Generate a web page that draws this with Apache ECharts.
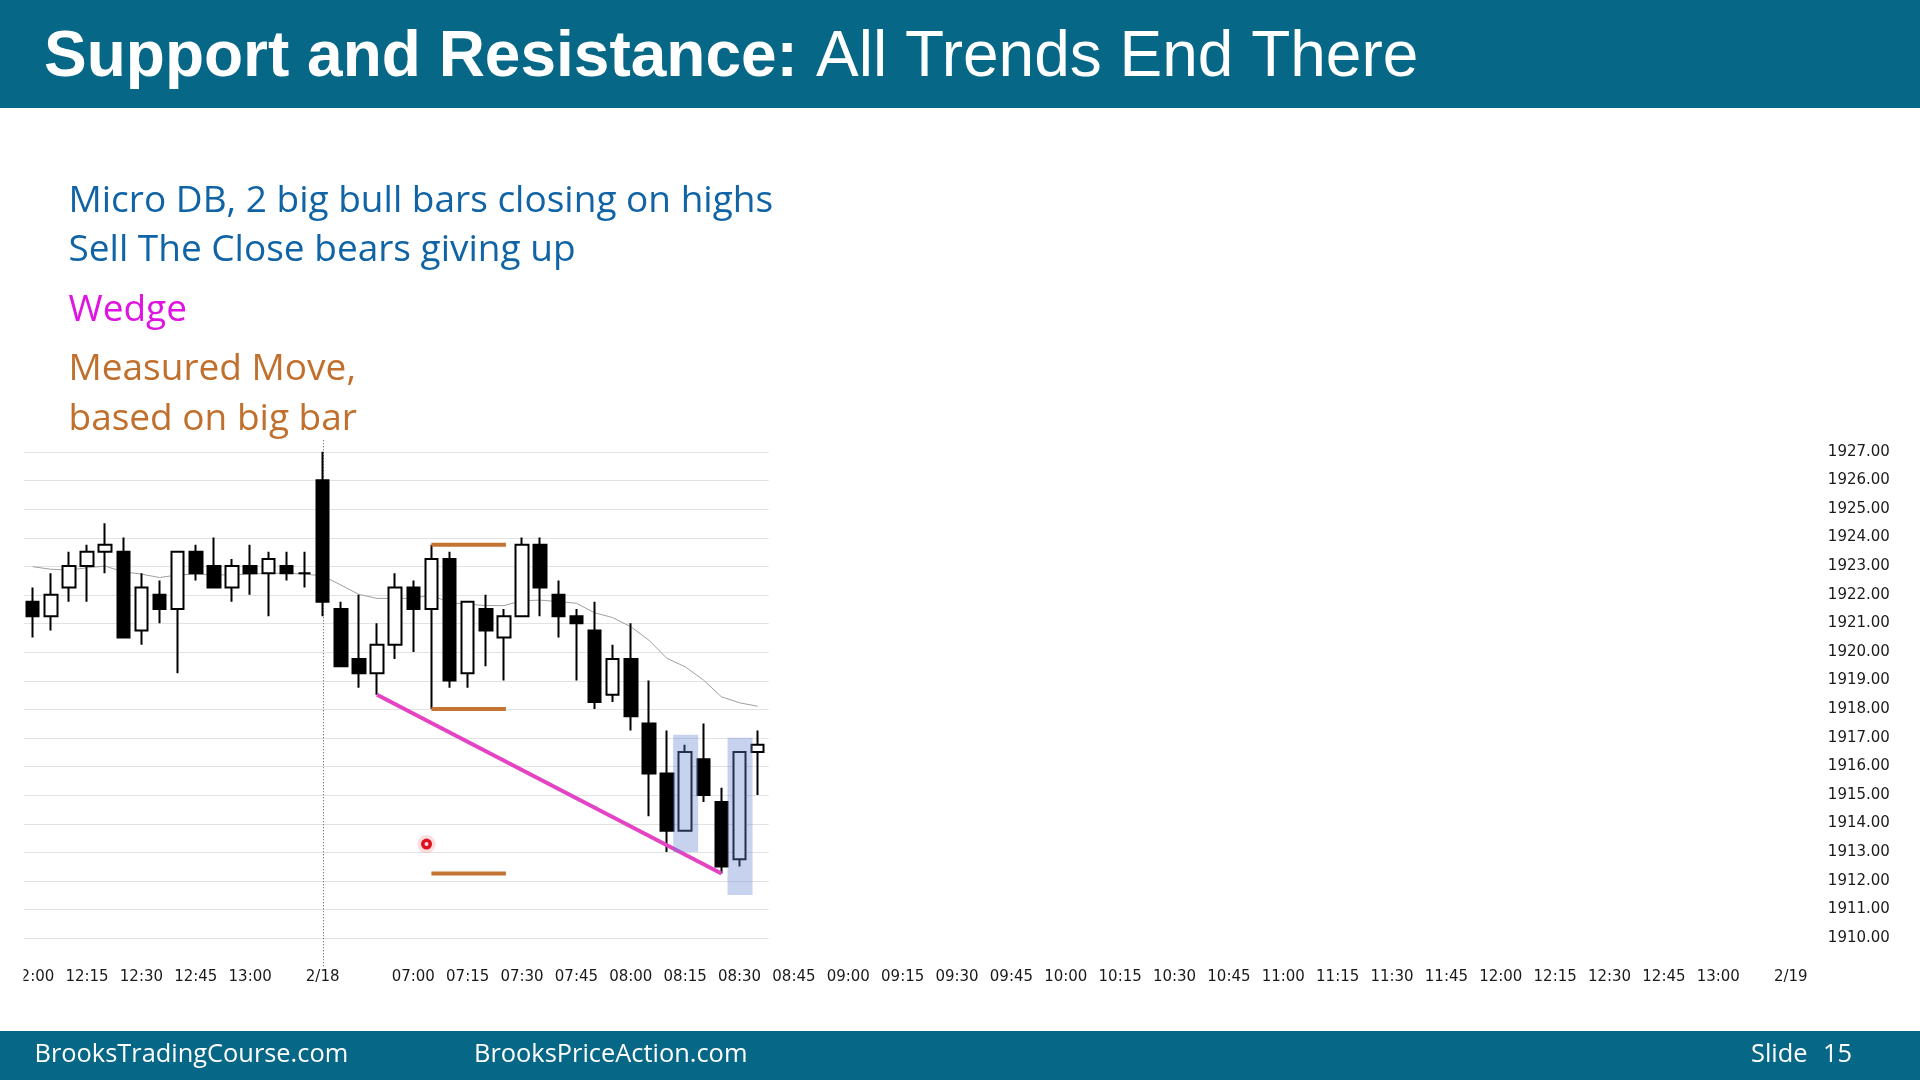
<!DOCTYPE html>
<html><head><meta charset="utf-8">
<script src="https://cdn.jsdelivr.net/npm/echarts@6/dist/echarts.min.js"></script>
<style>html,body{margin:0;padding:0;background:#fff;}#c{width:1920px;height:1080px;}</style>
</head><body><div id="c"></div>
<script>
// ---- data ----
const sessions = [
  {date:'2/17', start:'12:00', end:'13:15'},
  {date:'2/18', start:'06:35', end:'13:15'},
  {date:'2/19', start:'06:35', end:'06:35'}
];
const barOpen  = [1921.75,1921.25,1922.25,1923.0,1923.5,1923.5,1920.75,1922.0,1921.5,1923.5,1923.0,1922.25,1923.0,1922.75,1923.0,1922.75,
                  1926.0,1921.5,1919.75,1919.25,1920.25,1922.25,1921.5,1923.25,1919.25,1921.5,1920.5,1921.25,1923.75,1922.0,1921.25,1920.75,
                  1918.5,1919.75,1917.5,1915.75,1913.75,1916.25,1914.75,1912.75,1916.5];
const barHigh  = [1922.25,1922.75,1923.5,1923.75,1924.5,1924.0,1922.75,1922.5,1923.5,1923.75,1924.0,1923.25,1923.75,1923.5,1923.5,1923.5,
                  1927.0,1921.75,1922.0,1921.0,1922.75,1922.5,1923.75,1923.5,1921.75,1922.0,1921.5,1924.0,1924.0,1922.5,1921.5,1921.75,
                  1920.25,1921.0,1919.0,1917.25,1916.75,1917.5,1915.25,1916.5,1917.25];
const barLow   = [1920.5,1920.75,1921.75,1921.75,1922.75,1920.5,1920.25,1921.0,1919.25,1922.5,1922.25,1921.75,1922.0,1921.25,1922.5,1922.25,
                  1921.25,1919.5,1918.75,1918.5,1919.75,1920.0,1918.0,1918.75,1918.75,1919.5,1919.0,1921.25,1921.25,1920.5,1919.0,1918.0,
                  1918.25,1917.25,1914.25,1913.0,1913.75,1914.75,1912.25,1912.5,1915.0];
const barClose = [1921.25,1922.0,1923.0,1923.5,1923.75,1920.5,1922.25,1921.5,1923.5,1922.75,1922.25,1923.0,1922.75,1923.25,1922.75,1922.75,
                  1921.75,1919.5,1919.25,1920.25,1922.25,1921.5,1923.25,1919.0,1921.75,1920.75,1921.25,1923.75,1922.25,1921.25,1921.0,1918.25,
                  1919.75,1917.75,1915.75,1913.75,1916.5,1915.0,1912.5,1916.5,1916.75];
const maValues = [1922.98,1922.89,1922.86,1922.94,1923.0,1922.8,1922.72,1922.6,1922.69,1922.72,1922.69,1922.7,1922.72,1922.75,1922.75,1922.72,
                  1922.66,1922.34,1922.01,1921.87,1921.87,1921.87,1921.99,1921.72,1921.67,1921.62,1921.62,1921.79,1921.81,1921.76,1921.7,1921.37,
                  1921.2,1920.88,1920.41,1919.77,1919.48,1919.02,1918.43,1918.22,1918.1];
const yTicks = [1910,1911,1912,1913,1914,1915,1916,1917,1918,1919,1920,1921,1922,1923,1924,1925,1926,1927];
const mmLevels = [1923.75, 1918.0, 1912.25];   // measured move lines
const mmStartBar = 22, mmEndBar = 26;
const wedgePoints = [[19, 1918.5], [38, 1912.25]];
const highlightBars = [36, 39];
const highlightTop = [1917.1, 1917.0];
const highlightBottom = [1913.0, 1911.5];
const dayStartBar = 16, dividerTop = 1927.4;
const cursorBar = 21.73, cursorPrice = 1913.28;
const notes = [
  {text:'Micro DB, 2 big bull bars closing on highs', color:'#1064a6'},
  {text:'Sell The Close bears giving up', color:'#1064a6'},
  {text:'Wedge', color:'#e014e0'},
  {text:'Measured Move,', color:'#c0702c'},
  {text:'based on big bar', color:'#c0702c'}
];
const noteBaselines = [211.7, 260.7, 321, 379.5, 429.8];

// ---- categories (5-min bars) ----
function pad(n){return (n<10?'0':'')+n;}
const categories = [], catInfo = [];
sessions.forEach((s, si) => {
  let [h, m] = s.start.split(':').map(Number);
  const [eh, em] = s.end.split(':').map(Number);
  const startIdx = categories.length;
  while (h*60+m <= eh*60+em) {
    const t = pad(h)+':'+pad(m);
    catInfo.push({date:s.date, time:t, si:si, pos:categories.length-startIdx, min:m, last:(h*60+m)===(eh*60+em)});
    categories.push(s.date+' '+t);
    m += 5; if (m >= 60) { m -= 60; h++; }
  }
});
function labelFor(i){
  const c = catInfo[i];
  if (!c) return '';
  if (c.pos === 0 && c.si > 0) return c.date;
  if (c.min % 15 !== 0) return '';
  if (c.si > 0 && c.pos < 3) return '';
  if (c.last && c.si < sessions.length - 1) return '';
  return c.time;
}

const chart = echarts.init(document.getElementById('c'), null, {renderer:'canvas'});
const lastBar = barOpen.length - 1;
const openSans = '"Open Sans", "Noto Sans", sans-serif';
const noteSize = 37, footSize = 25.4;

const graphics = [
  {type:'rect', shape:{x:0,y:0,width:1920,height:108}, style:{fill:'#076787'}, z:100},
  {type:'text', x:44, y:58, style:{text:'Support and Resistance:', fill:'#fff', fontSize:64, fontWeight:'bold', fontFamily:'"Liberation Sans", Arial, sans-serif', verticalAlign:'middle'}, z:101},
  {type:'text', x:816, y:58, style:{text:'All Trends End There', fill:'#fff', fontSize:64, fontFamily:'"Liberation Sans", Arial, sans-serif', verticalAlign:'middle'}, z:101},
  {type:'rect', shape:{x:0,y:1031,width:1920,height:49}, style:{fill:'#076787'}, z:100},
  {type:'text', x:34.5, y:1062.3-0.285*footSize, style:{text:'BrooksTradingCourse.com', fill:'#fff', fontSize:footSize, fontFamily:openSans, verticalAlign:'middle'}, z:101},
  {type:'text', x:474, y:1062.3-0.285*footSize, style:{text:'BrooksPriceAction.com', fill:'#fff', fontSize:footSize, fontFamily:openSans, verticalAlign:'middle'}, z:101},
  {type:'text', x:1751, y:1062.3-0.285*footSize, style:{text:'Slide', fill:'#fff', fontSize:footSize, fontFamily:openSans, verticalAlign:'middle'}, z:101},
  {type:'text', x:1852, y:1062.3-0.285*footSize, style:{text:'15', fill:'#fff', fontSize:footSize, fontFamily:openSans, verticalAlign:'middle', align:'right'}, z:101},
  {type:'rect', shape:{x:0,y:966,width:23.5,height:30}, style:{fill:'#fff'}, z:100}
];
notes.forEach((n, i) => {
  graphics.push({type:'text', x:68.5, y:noteBaselines[i] - 0.285*noteSize,
    style:{text:n.text, fill:n.color, fontSize:noteSize, fontFamily:openSans, verticalAlign:'middle'}, z:101});
});

const option = {
  animation:false,
  backgroundColor:'#ffffff',
  grid:{left:23.6, right:120.15, top:423.1, bottom:113.5, containLabel:false},
  xAxis:{
    type:'category', data:categories, boundaryGap:true,
    axisLine:{show:false}, axisTick:{show:false}, splitLine:{show:false},
    axisLabel:{
      interval:(i)=> labelFor(i) !== '',
      formatter:(v, i)=> labelFor(i),
      margin:3, fontFamily:'"DejaVu Sans", sans-serif', fontSize:15, color:'#1a1a1a', hideOverlap:false
    }
  },
  yAxis:{
    type:'value', position:'right', min:1909, max:1928, interval:1, scale:true,
    axisLine:{show:false}, axisTick:{show:false}, splitLine:{show:false},
    axisLabel:{
      formatter:(v)=> (v >= yTicks[0] && v <= yTicks[yTicks.length-1]) ? v.toFixed(2) : '',
      margin:28, fontFamily:'"DejaVu Sans", sans-serif', fontSize:15, color:'#1a1a1a'
    }
  },
  graphic:{elements:graphics},
  series:[
    { // horizontal price grid, only across the bars
      type:'custom', z:1, silent:true, data:yTicks.map(v=>[0, v]), encode:{x:0, y:1},
      renderItem:(params, api)=>{
        const v = api.value(1);
        const band = api.size([1,0])[0];
        const a = api.coord([0, v]), b = api.coord([lastBar, v]);
        return {type:'line', shape:{x1:a[0]-band/2, y1:Math.round(a[1])+0.5, x2:b[0]+band/2+2, y2:Math.round(a[1])+0.5},
                style:{stroke:'#e2e2e2', lineWidth:1}};
      }
    },
    { // day divider
      type:'custom', z:2, silent:true, data:[[dayStartBar, dividerTop]], encode:{x:0, y:1},
      renderItem:(params, api)=>{
        const a = api.coord([api.value(0), api.value(1)]);
        const b = api.coord([api.value(0), 1909]);
        return {type:'line', shape:{x1:Math.round(a[0])+0.5, y1:a[1], x2:Math.round(a[0])+0.5, y2:b[1]},
                style:{stroke:'#555', lineWidth:1, lineDash:[1,2]}};
      }
    },
    {
      type:'line', z:3, data:maValues, symbol:'none', silent:true,
      lineStyle:{color:'#a0a0a0', width:1}
    },
    {
      type:'candlestick', z:4, barWidth:13, silent:true,
      data:barOpen.map((o,i)=>[o, barClose[i], barLow[i], barHigh[i]]),
      itemStyle:{color:'#ffffff', color0:'#000000', borderColor:'#000000', borderColor0:'#000000', borderColorDoji:'#000000', borderWidth:2}
    },
    { // measured move lines
      type:'custom', z:5, silent:true, data:mmLevels.map(v=>[mmStartBar, v]), encode:{x:0, y:1},
      renderItem:(params, api)=>{
        const a = api.coord([mmStartBar, api.value(1)]);
        const b = api.coord([mmEndBar, api.value(1)]);
        return {type:'line', shape:{x1:a[0], y1:a[1], x2:b[0]+2, y2:b[1]}, style:{stroke:'#c37332', lineWidth:4}};
      }
    },
    { // wedge line
      type:'line', z:5, data:wedgePoints, symbol:'none', silent:true,
      lineStyle:{color:'#e444c4', width:4}
    },
    { // highlight boxes
      type:'custom', z:6, silent:true,
      data:highlightBars.map((b,i)=>[b, highlightTop[i], highlightBottom[i]]), encode:{x:0, y:[1,2]},
      renderItem:(params, api)=>{
        const band = api.size([1,0])[0];
        const t = api.coord([api.value(0), api.value(1)]);
        const bt = api.coord([api.value(0), api.value(2)]);
        const w = band*1.38;
        return {type:'rect', shape:{x:t[0]-w/2+0.5, y:t[1], width:w, height:bt[1]-t[1]},
                style:{fill:'rgba(100,130,210,0.36)'}};
      }
    },
    { // cursor dot
      type:'custom', z:7, silent:true, data:[[Math.floor(cursorBar), cursorPrice]], encode:{x:0, y:1},
      renderItem:(params, api)=>{
        const p0 = api.coord([Math.floor(cursorBar), cursorPrice]);
        const p1 = api.coord([Math.floor(cursorBar)+1, cursorPrice]);
        const x = p0[0] + (cursorBar - Math.floor(cursorBar))*(p1[0]-p0[0]);
        const y = p0[1];
        return {type:'group', children:[
          {type:'circle', shape:{cx:x, cy:y, r:9}, style:{fill:'rgba(240,60,60,0.18)'}},
          {type:'circle', shape:{cx:x, cy:y, r:5.5}, style:{fill:'#e0101e'}},
          {type:'circle', shape:{cx:x, cy:y, r:2}, style:{fill:'#ffe0e0'}}
        ]};
      }
    }
  ]
};
chart.setOption(option);
</script>
</body></html>
